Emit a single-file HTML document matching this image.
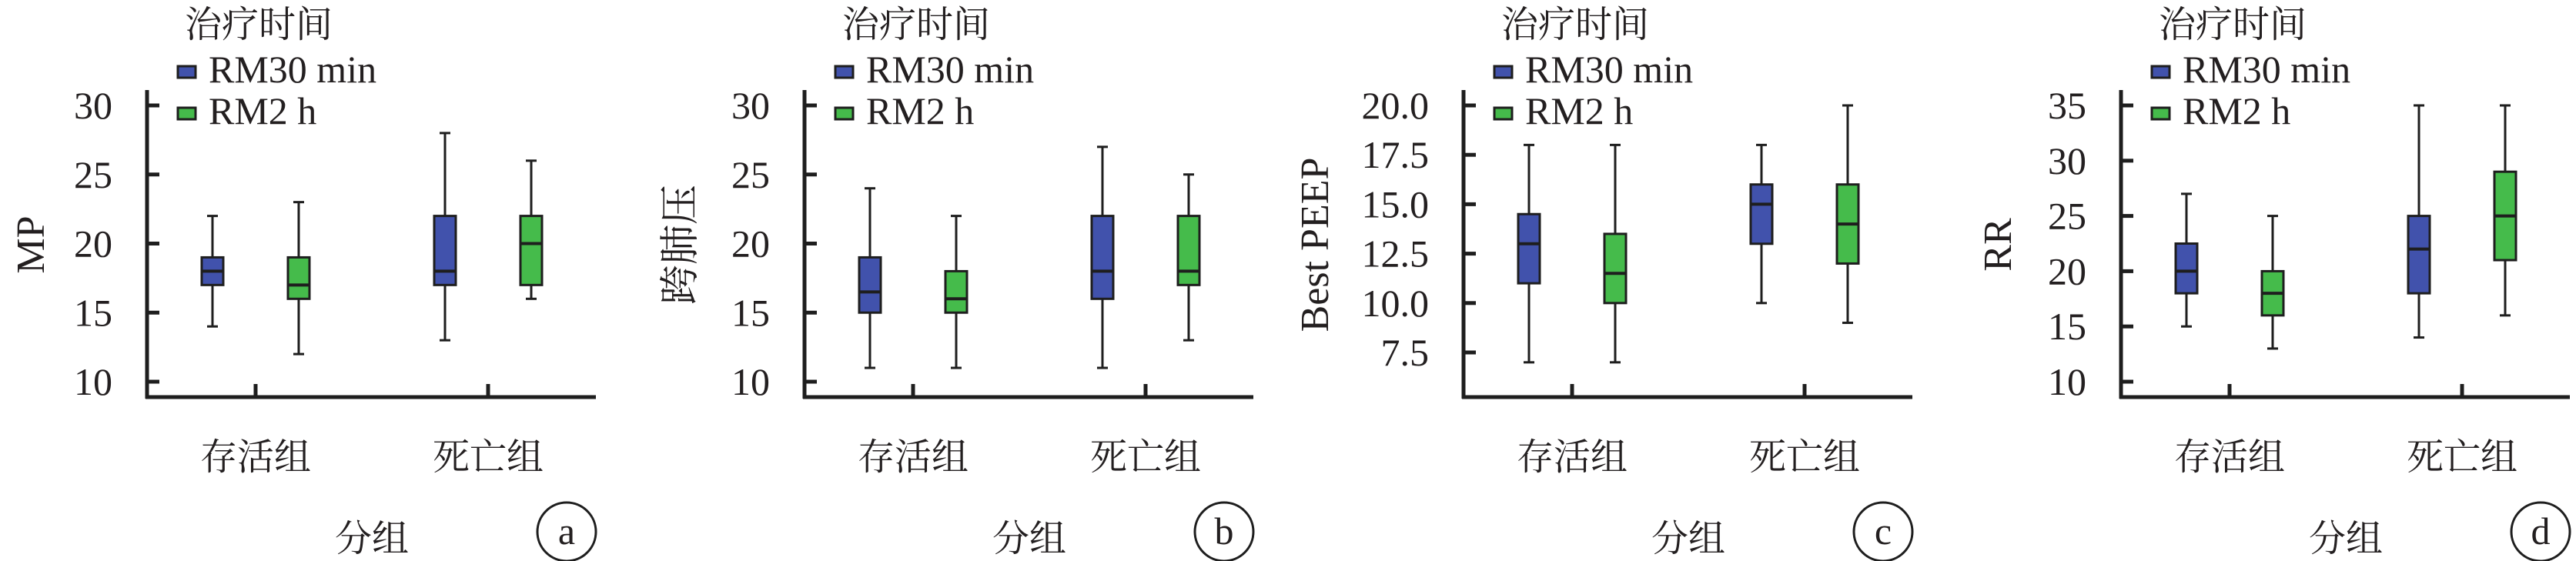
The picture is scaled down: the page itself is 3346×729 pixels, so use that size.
<!DOCTYPE html>
<html><head><meta charset="utf-8">
<style>
html,body{margin:0;padding:0;background:#fff;}
svg{display:block;}
text{font-family:"Liberation Serif","Noto Serif CJK SC",serif;fill:#231f20;}
</style></head>
<body>
<svg id="chart" width="3346" height="729" viewBox="0 0 3346 729" xmlns="http://www.w3.org/2000/svg"></svg>
<script>
// ---- data ----
const categories = ["存活组", "死亡组"];
const seriesNames = ["RM30 min", "RM2 h"];
const panelLetters = ["a", "b", "c", "d"];
const yTitles = ["MP", "跨肺压", "Best PEEP", "RR"];
// tick labels per panel
const ticksA = [10, 15, 20, 25, 30];
const ticksB = [10, 15, 20, 25, 30];
const ticksC = [7.5, 10.0, 12.5, 15.0, 17.5, 20.0];
const ticksD = [10, 15, 20, 25, 30, 35];
// [min, q1, median, q3, max] per category
const mpBlue = [[14, 17, 18, 19, 22], [13, 17, 18, 22, 28]];
const mpGreen = [[12, 16, 17, 19, 23], [16, 17, 20, 22, 26]];
const tpBlue = [[11, 15, 16.5, 19, 24], [11, 16, 18, 22, 27]];
const tpGreen = [[11, 15, 16, 18, 22], [13, 17, 18, 22, 25]];
const peepBlue = [[7, 11, 13, 14.5, 18], [10, 13, 15, 16, 18]];
const peepGreen = [[7, 10, 11.5, 13.5, 18], [9, 12, 14, 16, 20]];
const rrBlue = [[15, 18, 20, 22.5, 27], [14, 18, 22, 25, 35]];
const rrGreen = [[13, 16, 18, 20, 25], [16, 21, 25, 29, 35]];

const svg = document.getElementById('chart');
const NS = 'http://www.w3.org/2000/svg';
const BLUE = '#4152ac', GREEN = '#45bb4b', INK = '#1e1e1e';

function mk(tag, attrs, parent) {
  const e = document.createElementNS(NS, tag);
  for (const k in attrs) e.setAttribute(k, attrs[k]);
  parent.appendChild(e);
  return e;
}

const panels = [
  {ax: 191, ticks: ticksA, blue: mpBlue, green: mpGreen, fmt: 0, titleOff: -152},
  {ax: 1045, ticks: ticksB, blue: tpBlue, green: tpGreen, fmt: 0, titleOff: -162},
  {ax: 1901, ticks: ticksC, blue: peepBlue, green: peepGreen, fmt: 1, titleOff: -194},
  {ax: 2755, ticks: ticksD, blue: rrBlue, green: rrGreen, fmt: 0, titleOff: -161}
];

panels.forEach((p, pi) => {
  const g = mk('g', {}, svg);
  
  
  const ax = p.ax;
  const tMin = p.ticks[0], tMax = p.ticks[p.ticks.length - 1];
  const yTop = 137, yBot = (pi === 2) ? 458 : 496;
  const yScale = v => yBot - (v - tMin) * (yBot - yTop) / (tMax - tMin);
  const xCat = i => ax + 141 + i * 302;

  // axes
  const yAxis = mk('line', {x1: ax, y1: 117, x2: ax, y2: 518, stroke: INK, 'stroke-width': 5}, g);
  
  
  const xAxis = mk('line', {x1: ax - 2, y1: 516, x2: ax + 583, y2: 516, stroke: INK, 'stroke-width': 5}, g);
  
  

  // y ticks
  p.ticks.forEach(t => {
    const y = yScale(t);
    const tk = mk('line', {x1: ax, y1: y, x2: ax + 16, y2: y, stroke: INK, 'stroke-width': 5}, g);
    
    
    const tl = mk('text', {x: ax - 45, y: y + 17, 'font-size': 50, 'text-anchor': 'end'}, g);
    tl.textContent = p.fmt ? t.toFixed(1) : String(t);
    
    
  });

  // y title
  const yt = mk('text', {x: 0, y: 0, 'font-size': 52, 'text-anchor': 'middle',
    transform: 'translate(' + (ax + p.titleOff + 18) + ',318) rotate(-90)'}, g);
  yt.textContent = yTitles[pi];
  
  

  // categories
  categories.forEach((c, ci) => {
    const cx = xCat(ci);
    const ct = mk('line', {x1: cx, y1: 499, x2: cx, y2: 516, stroke: INK, 'stroke-width': 5}, g);
    
    
    const cl = mk('text', {x: cx, y: 610, 'font-size': 48, 'text-anchor': 'middle'}, g);
    cl.textContent = c;
    
    

    [[p.blue, BLUE, -56, 'rm30'], [p.green, GREEN, 56, 'rm2h']].forEach(s => {
      const d = s[0][ci];
      const bx = cx + s[2];
      const bg = mk('g', {}, g);
      
      
      mk('line', {x1: bx, y1: yScale(d[0]), x2: bx, y2: yScale(d[4]), stroke: INK, 'stroke-width': 3}, bg);
      mk('line', {x1: bx - 7, y1: yScale(d[4]), x2: bx + 7, y2: yScale(d[4]), stroke: INK, 'stroke-width': 3}, bg);
      mk('line', {x1: bx - 7, y1: yScale(d[0]), x2: bx + 7, y2: yScale(d[0]), stroke: INK, 'stroke-width': 3}, bg);
      mk('rect', {x: bx - 14, y: yScale(d[3]), width: 28, height: yScale(d[1]) - yScale(d[3]),
        fill: s[1], stroke: INK, 'stroke-width': 3}, bg);
      mk('line', {x1: bx - 14, y1: yScale(d[2]), x2: bx + 14, y2: yScale(d[2]), stroke: INK, 'stroke-width': 4}, bg);
    });
  });

  // legend
  const lt = mk('text', {x: ax + 49, y: 48, 'font-size': 48}, g);
  lt.textContent = '治疗时间';
  
  
  [[BLUE, 86, 107], [GREEN, 140, 161]].forEach((l, li) => {
    const lg = mk('g', {}, g);
    
    
    mk('rect', {x: ax + 40, y: l[1], width: 23, height: 15, fill: l[0], stroke: INK, 'stroke-width': 3}, lg);
    const tx = mk('text', {x: ax + 80, y: l[2], 'font-size': 50}, lg);
    tx.textContent = seriesNames[li];
  });

  // x title
  const xt = mk('text', {x: ax + 292, y: 716, 'font-size': 48, 'text-anchor': 'middle'}, g);
  xt.textContent = '分组';
  
  

  // panel letter
  const pc = mk('g', {}, g);
  
  
  mk('circle', {cx: ax + 545, cy: 691, r: 38, fill: 'none', stroke: INK, 'stroke-width': 3}, pc);
  const pl = mk('text', {x: ax + 545, y: 707, 'font-size': 50, 'text-anchor': 'middle'}, pc);
  pl.textContent = panelLetters[pi];
});
</script>
</body></html>
